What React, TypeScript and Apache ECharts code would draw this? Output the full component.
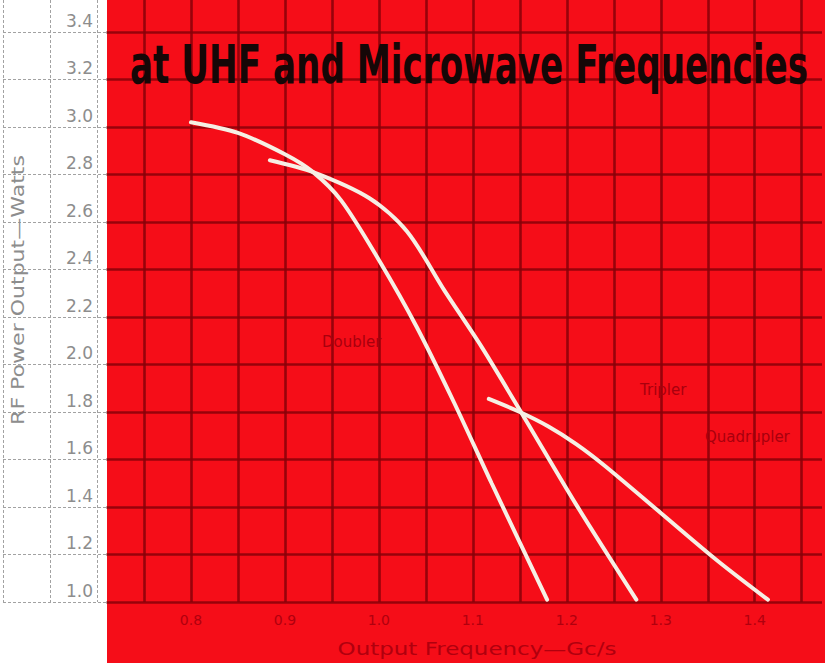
import React, { useEffect, useRef } from "react";
import * as echarts from "echarts";

// ---- data ----
const doublerFreq = [0.8, 0.85, 0.9, 0.93, 0.96, 1.0, 1.04, 1.08, 1.12, 1.179];
const doublerPower = [3.02, 2.975, 2.885, 2.81, 2.69, 2.44, 2.16, 1.84, 1.5, 1.01];

const triplerFreq = [0.884, 0.93, 0.99, 1.03, 1.07, 1.11, 1.155, 1.21, 1.274];
const triplerPower = [2.86, 2.81, 2.7, 2.56, 2.31, 2.07, 1.775, 1.41, 1.01];

const quadFreq = [1.117, 1.15, 1.18, 1.21, 1.24, 1.3, 1.36, 1.414];
const quadPower = [1.855, 1.8, 1.74, 1.665, 1.575, 1.375, 1.175, 1.01];

const seriesNames = ["Doubler", "Tripler", "Quadrupler"];
const titleText = "at UHF and Microwave Frequencies";
const yAxisTitle = "RF Power Output\u2014Watts";
const xAxisTitle = "Output Frequency\u2014Gc/s";

const xLabelMin = 0.8;
const xLabelMax = 1.4;
const yLabelMax = 3.4;

const zip = (a: number[], b: number[]) => a.map((v, i) => [v, b[i]]);

const ctx2d = document.createElement("canvas").getContext("2d") as CanvasRenderingContext2D;
function textWidth(t: string, font: string) {
  ctx2d.font = font;
  return ctx2d.measureText(t).width;
}

export default function App() {
  const ref = useRef<HTMLDivElement>(null);
  useEffect(() => {
    document.body.style.margin = "0";
    const chart = echarts.init(ref.current as HTMLDivElement, null, { renderer: "svg" });

    const W = 825;
    const redX = 107;
    const grayGrad = new echarts.graphic.LinearGradient(
      0, 0, W, 0,
      [
        { offset: 0, color: "#a2a2a2" },
        { offset: (redX - 1) / W, color: "#a2a2a2" },
        { offset: redX / W, color: "rgba(0,0,0,0)" },
        { offset: 1, color: "rgba(0,0,0,0)" },
      ],
      true
    );
    const darkGrad = new echarts.graphic.LinearGradient(
      0, 0, W, 0,
      [
        { offset: 0, color: "rgba(0,0,0,0)" },
        { offset: (redX - 1) / W, color: "rgba(0,0,0,0)" },
        { offset: redX / W, color: "rgba(135,0,8,0.85)" },
        { offset: 1, color: "rgba(135,0,8,0.85)" },
      ],
      true
    );

    const titleFont = 'bold 54px "Liberation Sans Narrow", "DejaVu Sans Condensed", "Arial Narrow", sans-serif';
    const titleScale = 678 / textWidth(titleText, titleFont);
    const yNameFont = '17px "DejaVu Sans", sans-serif';
    const yNameScale = 270 / textWidth(yAxisTitle, yNameFont);
    const xNameFont = '17px "DejaVu Sans", sans-serif';
    const xNameScale = 279 / textWidth(xAxisTitle, xNameFont);

    const xMin = 0.6;
    const xMax = 0.6 + 828 / 950;
    const yMin = 1.0;
    const yMax = 1.0 + 602 / 237.5;

    const lineStyle = { color: "#f6efe4", width: 4, cap: "round" as const };

    const option: any = {
      animation: false,
      backgroundColor: "#ffffff",
      grid: { left: -3, right: 0, top: 0, bottom: 61, containLabel: false },
      xAxis: [
        {
          type: "value",
          position: "bottom",
          min: xMin,
          max: xMax,
          interval: 0.05,
          axisLine: { show: false },
          axisTick: { show: false },
          splitLine: { show: true, showMaxLine: false, lineStyle: { color: grayGrad, width: 1, type: [3, 2] } },
          axisLabel: {
            margin: 11,
            color: "#b0000e",
            fontSize: 14,
            fontFamily: "DejaVu Sans",
            formatter: (v: number) => {
              const k = Math.round(v * 10);
              return Math.abs(v * 10 - k) < 1e-6 && k >= xLabelMin * 10 - 1e-6 && k <= xLabelMax * 10 + 1e-6
                ? (k / 10).toFixed(1)
                : "";
            },
          },
        },
        {
          type: "value",
          position: "top",
          min: xMin,
          max: xMax,
          interval: 0.05,
          axisLine: { show: false },
          axisTick: { show: false },
          axisLabel: { show: false },
          splitLine: { show: true, showMaxLine: false, lineStyle: { color: darkGrad, width: 2.6 } },
        },
      ],
      yAxis: [
        {
          type: "value",
          position: "left",
          min: yMin,
          max: yMax,
          interval: 0.2,
          axisLine: { show: false },
          axisTick: { show: false },
          splitLine: { show: true, showMaxLine: false, lineStyle: { color: grayGrad, width: 1, type: [3, 2] } },
          axisLabel: {
            inside: true,
            margin: 90,
            align: "right",
            verticalAlign: "bottom",
            lineHeight: 23,
            color: "#8d8d8d",
            fontSize: 17,
            fontFamily: "DejaVu Sans",
            formatter: (v: number) => {
              const k = Math.round(v * 5);
              return Math.abs(v * 5 - k) < 1e-6 && v <= yLabelMax + 1e-6 ? v.toFixed(1) : "";
            },
          },
        },
        {
          type: "value",
          position: "right",
          min: yMin,
          max: yMax,
          interval: 0.2,
          axisLine: { show: false },
          axisTick: { show: false },
          axisLabel: { show: false },
          splitLine: { show: true, showMaxLine: false, lineStyle: { color: darkGrad, width: 2.6 } },
        },
      ],
      graphic: [
        {
          type: "rect",
          z: -10,
          silent: true,
          shape: { x: redX, y: 0, width: W - redX, height: 663 },
          style: { fill: "#f50d18" },
        },
        {
          type: "text",
          z: 10,
          x: 130,
          y: 64,
          scaleX: titleScale,
          style: { text: titleText, font: titleFont, fill: "#150707", textVerticalAlign: "middle", textAlign: "left" },
        },
        {
          type: "text",
          z: 10,
          x: 18,
          y: 290,
          rotation: Math.PI / 2,
          scaleX: yNameScale,
          style: { text: yAxisTitle, font: yNameFont, fill: "#8d8d8d", textAlign: "center", textVerticalAlign: "middle" },
        },
        {
          type: "text",
          z: 10,
          x: 477,
          y: 649,
          scaleX: xNameScale,
          style: { text: xAxisTitle, font: xNameFont, fill: "#b0000e", textAlign: "center", textVerticalAlign: "middle" },
        },
        {
          type: "text",
          z: 10,
          x: 322,
          y: 342,
          style: { text: seriesNames[0], font: '15px "DejaVu Sans", sans-serif', fill: "#a8000d", textVerticalAlign: "middle" },
        },
        {
          type: "text",
          z: 10,
          x: 640,
          y: 390,
          style: { text: seriesNames[1], font: '15px "DejaVu Sans", sans-serif', fill: "#a8000d", textVerticalAlign: "middle" },
        },
        {
          type: "text",
          z: 10,
          x: 705,
          y: 437,
          style: { text: seriesNames[2], font: '15px "DejaVu Sans", sans-serif', fill: "#a8000d", textVerticalAlign: "middle" },
        },
      ],
      series: [
        { name: seriesNames[0], type: "line", smooth: 0.3, showSymbol: false, xAxisIndex: 0, yAxisIndex: 0, lineStyle, data: zip(doublerFreq, doublerPower) },
        { name: seriesNames[1], type: "line", smooth: 0.3, showSymbol: false, xAxisIndex: 0, yAxisIndex: 0, lineStyle, data: zip(triplerFreq, triplerPower) },
        { name: seriesNames[2], type: "line", smooth: 0.3, showSymbol: false, xAxisIndex: 0, yAxisIndex: 0, lineStyle, data: zip(quadFreq, quadPower) },
      ],
    };
    chart.setOption(option);
    return () => chart.dispose();
  }, []);
  return <div ref={ref} style={{ width: 825, height: 663 }} />;
}
